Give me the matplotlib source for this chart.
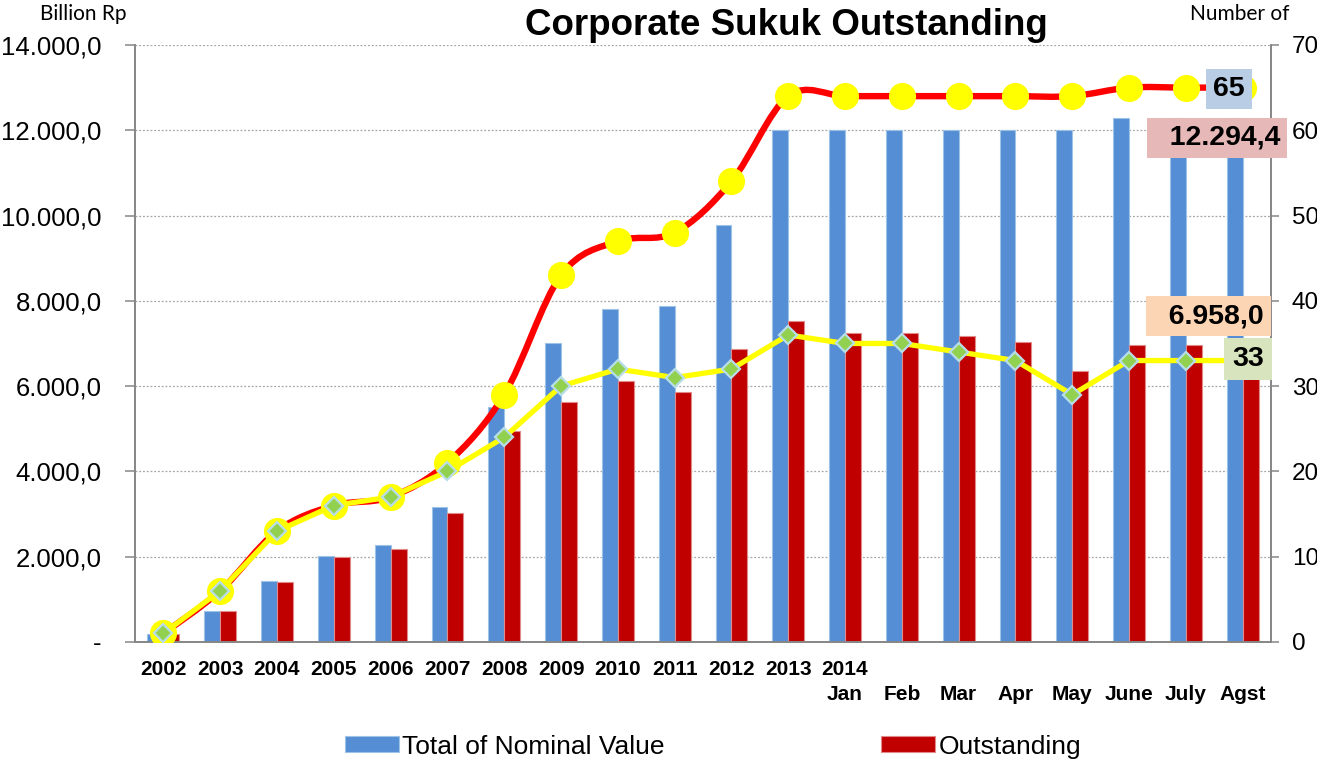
import matplotlib
matplotlib.use('Agg')
import matplotlib.pyplot as plt
from matplotlib.path import Path
from matplotlib.patches import PathPatch
import numpy as np

# ---------------- data ----------------
categories = ['2002', '2003', '2004', '2005', '2006', '2007', '2008', '2009', '2010',
              '2011', '2012', '2013', '2014\nJan', '\nFeb', '\nMar', '\nApr', '\nMay',
              '\nJune', '\nJuly', '\nAgst']
total_nominal = [185, 730, 1430, 2020, 2280, 3170, 5500, 7010, 7810, 7890, 9770,
                 12000, 12000, 12000, 12000, 12000, 12000, 12294.4, 12294.4, 12294.4]
outstanding = [180, 730, 1400, 1990, 2180, 3020, 4950, 5620, 6110, 5870, 6870,
               7530, 7240, 7240, 7170, 7030, 6350, 6958.0, 6958.0, 6958.0]
num_issued = [1, 6, 13, 16, 17, 21, 29, 43, 47, 48, 54, 64, 64, 64, 64, 64, 64, 65, 65, 65]
num_outstanding = [1, 6, 13, 16, 17, 20, 24, 30, 32, 31, 32, 36, 35, 35, 34, 33, 29, 33, 33, 33]

left_ticks = [0, 2000, 4000, 6000, 8000, 10000, 12000, 14000]
left_tick_labels = ['-', '2.000,0', '4.000,0', '6.000,0', '8.000,0', '10.000,0', '12.000,0', '14.000,0']
right_ticks = [0, 10, 20, 30, 40, 50, 60, 70]
right_tick_labels = ['0', '10', '20', '30', '40', '50', '60', '70']

title = 'Corporate Sukuk Outstanding'
left_unit = 'Billion Rp'
right_unit = 'Number of'
legend_labels = ['Total of Nominal Value', 'Outstanding']
label_issued = '65'
label_nominal = '  12.294,4'
label_outstanding = '  6.958,0'
label_num_out = '33'

# ---------------- style ----------------
plt.rcParams['font.family'] = ['Liberation Sans', 'DejaVu Sans']
BLUE = '#558ed5'
DARKRED = '#c00000'
AXIS_GRAY = '#868686'

fig = plt.figure(figsize=(13.17, 7.61), dpi=100)
ax = fig.add_axes([0.1025, 0.1564, 0.8626, 0.7845])
ax2 = ax.twinx()

x = np.arange(len(categories))
w = 0.28
bars1 = ax.bar(x - w / 2, total_nominal, width=w, color=BLUE, edgecolor='#9dc3e6',
               linewidth=0.8, zorder=2)
bars2 = ax.bar(x + w / 2, outstanding, width=w, color=DARKRED, edgecolor='#e08a8a',
               linewidth=0.8, zorder=2)

ax.set_xlim(-0.5, len(categories) - 0.5)
ax.set_ylim(0, 14000)
ax.set_yticks(left_ticks)
ax.set_yticklabels(left_tick_labels, fontsize=18.5)
ax.set_xticks(x)
ax.set_xticklabels(categories, fontsize=15, fontweight='bold', linespacing=1.4)
ax.tick_params(axis='x', length=0, pad=13)
ax.tick_params(axis='y', direction='out', length=7, width=1.1, color=AXIS_GRAY, pad=17)
ax.yaxis.grid(True, color='#a6a6a6', linestyle=(0, (1.5, 1.5)), linewidth=0.9, zorder=0)
ax.set_axisbelow(True)

ax2.set_ylim(0, 70)
ax2.set_yticks(right_ticks)
ax2.set_yticklabels(right_tick_labels, fontsize=17.5)
ax2.tick_params(axis='y', direction='out', length=6, width=1.1, color=AXIS_GRAY, pad=9)

for a in (ax, ax2):
    a.spines['top'].set_visible(False)
    for s in ('left', 'right', 'bottom'):
        a.spines[s].set_color(AXIS_GRAY)
        a.spines[s].set_linewidth(1.2)

# smoothed red line (cubic Bezier through data points, Excel-style smoothing)
pts = np.column_stack([x, num_issued]).astype(float)
verts = [tuple(pts[0])]
codes = [Path.MOVETO]
n = len(pts)
for i in range(n - 1):
    p0 = pts[i - 1] if i > 0 else pts[i]
    p1 = pts[i]
    p2 = pts[i + 1]
    p3 = pts[i + 2] if i + 2 < n else pts[i + 1]
    c1 = p1 + (p2 - p0) / 6.0
    c2 = p2 - (p3 - p1) / 6.0
    verts += [tuple(c1), tuple(c2), tuple(p2)]
    codes += [Path.CURVE4] * 3
ax2.add_patch(PathPatch(Path(verts, codes), fill=False, edgecolor='#ff0000',
                        linewidth=4.6, capstyle='round', joinstyle='round', zorder=3))
ax2.plot(x, num_issued, linestyle='none', marker='o', markersize=18.5,
         markerfacecolor='#ffff00', markeredgecolor='#ffff00', zorder=4)

ax2.plot(x, num_outstanding, color='#ffff00', linewidth=3.8, marker='D', markersize=9,
         markerfacecolor='#92d050', markeredgecolor='#b7dee8', markeredgewidth=1.6,
         zorder=5)

# data labels
lbl = dict(fontsize=20.5, fontweight='bold', ha='center', va='center', zorder=10,
           annotation_clip=False)
ax2.annotate(label_issued, xy=(x[-1], num_issued[-1]), xytext=(-9.8, -0.8),
             textcoords='offset points',
             bbox=dict(boxstyle='square,pad=0.25', fc='#b9cde5', ec='none'), **lbl)
ax2.annotate(label_nominal, xy=(x[-1], total_nominal[-1]), xycoords=ax.transData,
             xytext=(-18.5, -14.6), textcoords='offset points',
             bbox=dict(boxstyle='square,pad=0.25', fc='#e6b9b8', ec='none'), **lbl)
ax2.annotate(label_outstanding, xy=(x[-1], outstanding[-1]), xycoords=ax.transData,
             xytext=(-24.5, 20.9), textcoords='offset points',
             bbox=dict(boxstyle='square,pad=0.25', fc='#fcd5b5', ec='none'), **lbl)
ax2.annotate(label_num_out, xy=(x[-1], num_outstanding[-1]), xytext=(4.0, 1.3),
             textcoords='offset points',
             bbox=dict(boxstyle='square,pad=0.28', fc='#d7e4bd', ec='none'), **lbl)

# titles / units
fig.text(0.597, 0.954, title, fontsize=26.5, fontweight='bold', ha='center', va='baseline')
fig.text(0.0305, 0.982, left_unit, fontsize=15, family=['Lato', 'DejaVu Sans'],
         ha='left', va='center')
fig.text(0.979, 0.982, right_unit, fontsize=15, family=['Lato', 'DejaVu Sans'],
         ha='right', va='center')

fig.legend([bars1, bars2], legend_labels, loc='center', bbox_to_anchor=(0.5415, 0.019),
           ncol=2, frameon=False, fontsize=19, handlelength=2.05, handleheight=0.55,
           handletextpad=0.12, columnspacing=8.2, borderaxespad=0)

fig.savefig('out.png', dpi=100)
